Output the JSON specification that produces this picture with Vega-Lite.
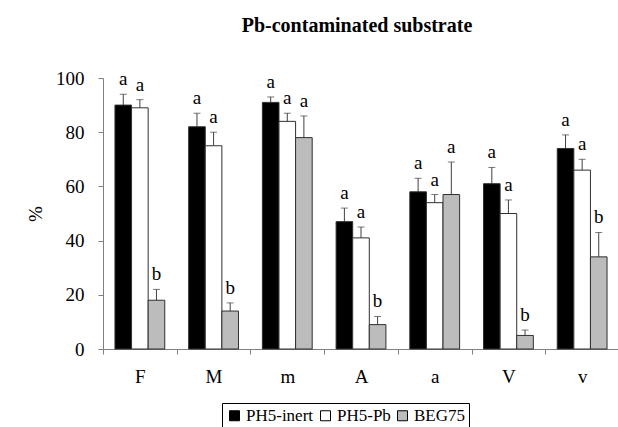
{
  "$schema": "https://vega.github.io/schema/vega-lite/v6.json",
  "autosize": "none",
  "width": 516,
  "height": 271,
  "padding": {"left": 103, "top": 78, "right": 0, "bottom": 78},
  "background": "white",
  "title": {"text": "Pb-contaminated substrate", "font": "Liberation Serif", "fontSize": 20, "fontWeight": "bold", "color": "black", "anchor": "middle", "offset": 33, "dx": -4},
  "config": {
    "view": {"stroke": null},
    "font": "Liberation Serif",
    "axis": {"labelFont": "Liberation Serif", "titleFont": "Liberation Serif", "labelFontSize": 19, "labelColor": "black", "domainColor": "#808080", "tickColor": "#808080", "grid": false},
    "legend": {"labelFont": "Liberation Serif", "titleFont": "Liberation Serif"},
    "text": {"font": "Liberation Serif"}
  },
  "data": {"values": [
    {"g": "F", "s": "PH5-inert", "v": 90, "e": 94, "l": "a"},
    {"g": "F", "s": "PH5-Pb", "v": 89, "e": 92, "l": "a"},
    {"g": "F", "s": "BEG75", "v": 18, "e": 22, "l": "b"},
    {"g": "M", "s": "PH5-inert", "v": 82, "e": 87, "l": "a"},
    {"g": "M", "s": "PH5-Pb", "v": 75, "e": 80, "l": "a"},
    {"g": "M", "s": "BEG75", "v": 14, "e": 17, "l": "b"},
    {"g": "m", "s": "PH5-inert", "v": 91, "e": 93, "l": "a"},
    {"g": "m", "s": "PH5-Pb", "v": 84, "e": 87, "l": "a"},
    {"g": "m", "s": "BEG75", "v": 78, "e": 86, "l": "a"},
    {"g": "A", "s": "PH5-inert", "v": 47, "e": 52, "l": "a"},
    {"g": "A", "s": "PH5-Pb", "v": 41, "e": 45, "l": "a"},
    {"g": "A", "s": "BEG75", "v": 9, "e": 12, "l": "b"},
    {"g": "a", "s": "PH5-inert", "v": 58, "e": 63, "l": "a"},
    {"g": "a", "s": "PH5-Pb", "v": 54, "e": 57, "l": "a"},
    {"g": "a", "s": "BEG75", "v": 57, "e": 69, "l": "a"},
    {"g": "V", "s": "PH5-inert", "v": 61, "e": 67, "l": "a"},
    {"g": "V", "s": "PH5-Pb", "v": 50, "e": 55, "l": "a"},
    {"g": "V", "s": "BEG75", "v": 5, "e": 7, "l": "b"},
    {"g": "v", "s": "PH5-inert", "v": 74, "e": 79, "l": "a"},
    {"g": "v", "s": "PH5-Pb", "v": 66, "e": 70, "l": "a"},
    {"g": "v", "s": "BEG75", "v": 34, "e": 43, "l": "b"}
  ]},
  "encoding": {
    "x": {"field": "g", "type": "nominal", "sort": ["F", "M", "m", "A", "a", "V", "v"], "scale": {"paddingInner": 0, "paddingOuter": 0},
      "axis": {"title": null, "labelAngle": 0, "tickBand": "extent", "tickSize": 5, "labelPadding": 13}},
    "xOffset": {"field": "s", "type": "nominal", "sort": ["PH5-inert", "PH5-Pb", "BEG75"], "scale": {"paddingInner": 0, "paddingOuter": 0.72}}
  },
  "layer": [
    {
      "mark": {"type": "rule", "color": "#404040", "strokeWidth": 1},
      "encoding": {
        "y": {"field": "v", "type": "quantitative"},
        "y2": {"field": "e"}
      }
    },
    {
      "mark": {"type": "tick", "color": "#404040", "thickness": 1, "size": 7, "orient": "horizontal"},
      "encoding": {
        "y": {"field": "e", "type": "quantitative"}
      }
    },
    {
      "mark": {"type": "bar", "stroke": "#303030", "strokeWidth": 1},
      "encoding": {
        "y": {"field": "v", "type": "quantitative", "scale": {"domain": [0, 100]},
          "axis": {"title": "%", "titleFontSize": 19, "titleFontWeight": "normal", "titleColor": "black", "titlePadding": 10, "values": [0, 20, 40, 60, 80, 100], "tickSize": 5, "labelPadding": 14}},
        "color": {"field": "s", "type": "nominal", "sort": ["PH5-inert", "PH5-Pb", "BEG75"],
          "scale": {"domain": ["PH5-inert", "PH5-Pb", "BEG75"], "range": ["#000000", "#ffffff", "#bcbcbc"]},
          "legend": {"title": null, "orient": "none", "legendX": 119, "legendY": 325, "direction": "horizontal", "columns": 3,
            "symbolType": "square", "symbolSize": 100, "symbolStrokeColor": "#000000", "symbolStrokeWidth": 1, "symbolOpacity": 1,
            "labelFont": "Liberation Serif", "labelFontSize": 17, "labelColor": "black", "labelOffset": 3, "columnPadding": 3,
            "strokeColor": "#000000", "padding": 4}}
      }
    },
    {
      "mark": {"type": "text", "font": "Liberation Serif", "fontSize": 19, "color": "black", "baseline": "alphabetic", "dy": -9},
      "encoding": {
        "y": {"field": "e", "type": "quantitative"},
        "text": {"field": "l"}
      }
    }
  ]
}
